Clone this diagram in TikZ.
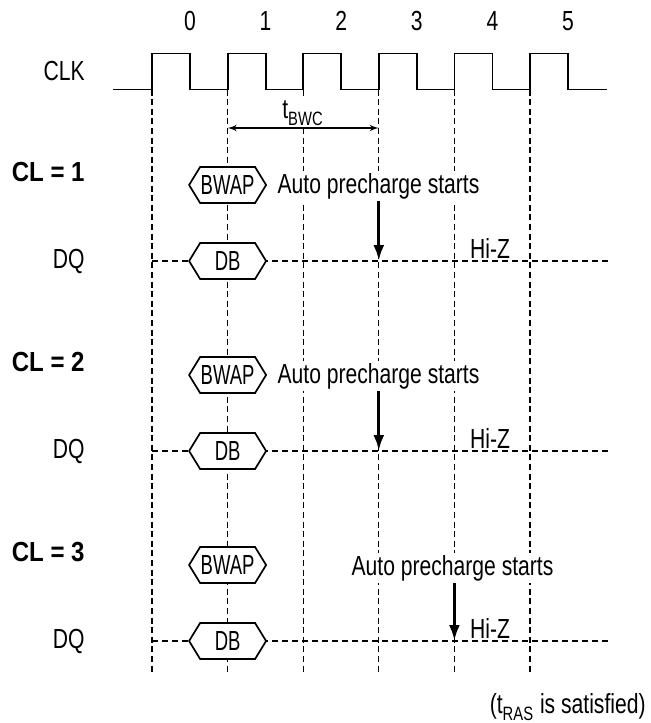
\documentclass[tikz,border=0pt]{standalone}
\usepackage{fontspec}
\setmainfont{Liberation Sans}[FakeStretch=0.765, Scale=1.38]
\usepackage{tikz}
\usetikzlibrary{arrows}
\usetikzlibrary{arrows.meta}
\usetikzlibrary{shapes}
\newcommand{\hexlabel}[1]{\makebox[0pt]{#1}}
\tikzstyle{bus} = [draw, fill=white, signal, signal to=east and west,
    signal pointer angle=117, line width=0.85pt,
    minimum width=38.5pt, minimum height=18pt,
    inner sep=0pt, font=\addfontfeature{FakeStretch=0.67}]
\tikzstyle{lbl} = [anchor=east, inner sep=0pt]
\tikzstyle{cl} = [anchor=east, inner sep=0pt,
    font=\bfseries\addfontfeature{FakeStretch=0.87}]
\tikzstyle{note} = [fill=white, inner sep=1pt]
\tikzstyle{guide} = [dash pattern=on 3pt off 1.8pt, line width=0.6pt]
\tikzstyle{dqline} = [dash pattern=on 3pt off 2pt, line width=0.8pt]
\tikzstyle{clock} = [line width=0.9pt]
\tikzstyle{pointer} = [line width=1.6pt, -{Latex[length=8pt,width=5.5pt]}]
\begin{document}
\begin{tikzpicture}[x=0.5pt, y=-0.5pt, >=latex']
    \useasboundingbox (0,0) rectangle (650,723);
    % We start with the clock edges, the cycle numbers and the guide lines
    \foreach \i in {0,...,5} {
        \coordinate (top\i) at (152+75.6*\i, 89.5);
        \coordinate (bot\i) at (152+75.6*\i, 675);
        \draw [guide] (top\i) -- (bot\i);
        \node (n\i) at (190+75.6*\i, 21) {\i};
    }
    \node [lbl] (clk) at (85,71) {CLK};
    \draw [clock] (113,89.5) \foreach \i in {0,...,5} {
        -- (top\i) -- ++(0,-36) -- ++(38,0) -- ++(0,36)} -- (607,89.5);
    % burst write cycle time between the edges 1 and 3
    \coordinate (bwcl) at (227.6,128);
    \coordinate (bwcr) at (378.8,128);
    \draw [<->, line width=0.6pt] (bwcl) -- (bwcr);
    \node [note] (bwc) at (303,113) {t\textsubscript{BWC}};
    % one block per CAS latency
    \foreach \k in {1,2,3} {
        \pgfmathsetmacro\yy{190*(\k-1)}
        \node [cl] (cl\k) at (85,172+\yy) {CL = \k};
        \node [lbl] (dq\k) at (85,261+\yy) {DQ};
        \coordinate (dqs\k) at (152,261+\yy);
        \coordinate (dqe\k) at (608,261+\yy);
        \draw [dqline] (dqs\k) -- (dqe\k);
        \node [bus] (bwap\k) at (227.6,185+\yy) {\hexlabel{BWAP}};
        \node [bus] (db\k) at (227.6,261+\yy) {\hexlabel{DB}};
        \node (hiz\k) at (490,248+\yy) {Hi-Z};
    }
    % the precharge marks: under edge 3 for CL 1 and 2, under edge 4 for CL 3
    \node [note] (auto1) at (378.5,186) {Auto precharge starts};
    \node [note] (auto2) at (378.5,376) {Auto precharge starts};
    \node [note] (auto3) at (452.5,568) {Auto precharge starts};
    \draw [pointer] (top3 |- auto1.south) -- (top3 |- dqs1);
    \draw [pointer] (top3 |- auto2.south) -- (top3 |- dqs2);
    \draw [pointer] (top4 |- auto3.south) -- (top4 |- dqs3);
    \node [lbl] (tras) at (646,707) {(t\textsubscript{RAS} is satisfied)};
\end{tikzpicture}
\end{document}
